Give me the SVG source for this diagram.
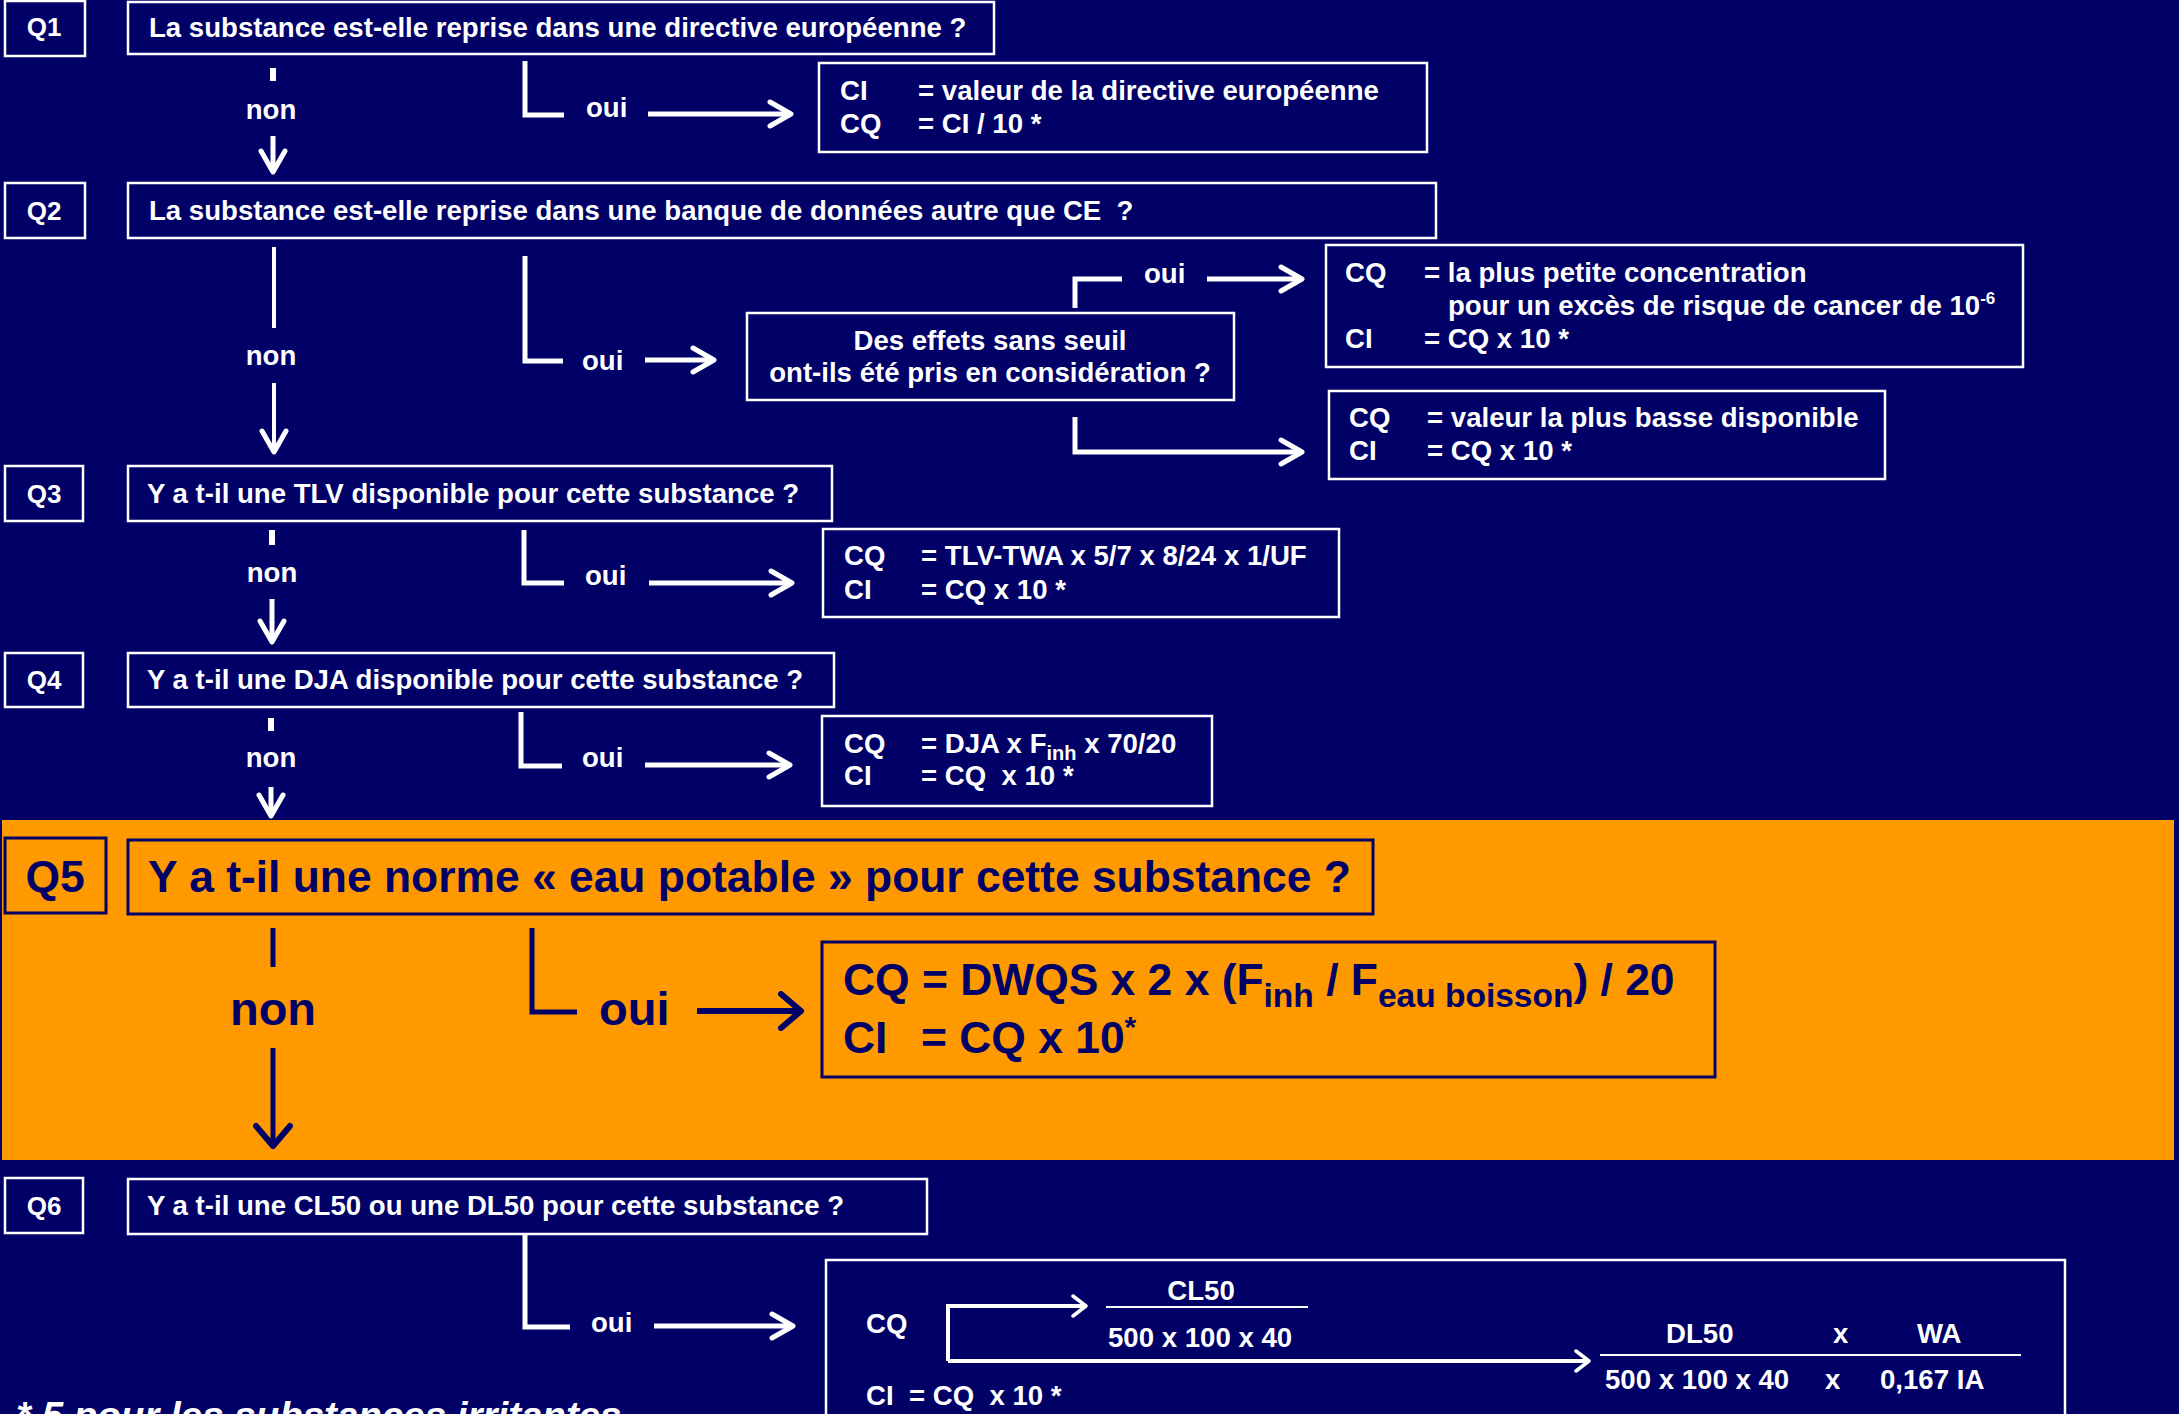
<svg xmlns="http://www.w3.org/2000/svg" width="2179" height="1414" viewBox="0 0 2179 1414">
<defs>
<style>
.t{font-family:"Liberation Sans",Arial,sans-serif;font-weight:bold;font-size:27.6px;fill:#fff;white-space:pre}
.q{font-size:26px;text-anchor:middle}
.mid{text-anchor:middle}
.tn{font-family:"Liberation Sans",Arial,sans-serif;font-weight:bold;font-size:44.4px;fill:#000066;white-space:pre}
.box{fill:none;stroke:#fff;stroke-width:2.5}
.boxn{fill:none;stroke:#000066;stroke-width:3}
.ln{fill:none;stroke:#fff;stroke-width:5}
.lnn{fill:none;stroke:#000066;stroke-width:5}
.thin{fill:none;stroke:#fff;stroke-width:4}
.frac{stroke:#fff;stroke-width:2}
</style>
<marker id="aw" viewBox="0 0 30 30" refX="26" refY="15" markerWidth="30" markerHeight="30" orient="auto" markerUnits="userSpaceOnUse">
<path d="M5,3 L26,15 L5,27" fill="none" stroke="#fff" stroke-width="5" stroke-linejoin="round" stroke-linecap="round"/>
</marker>
<marker id="an" viewBox="0 0 30 40" refX="26" refY="20" markerWidth="30" markerHeight="40" orient="auto" markerUnits="userSpaceOnUse">
<path d="M6,3 L26,20 L6,37" fill="none" stroke="#000066" stroke-width="6" stroke-linejoin="round" stroke-linecap="round"/>
</marker>
<marker id="as" viewBox="0 0 20 24" refX="17" refY="12" markerWidth="20" markerHeight="24" orient="auto" markerUnits="userSpaceOnUse">
<path d="M4,2 L17,12 L4,22" fill="none" stroke="#fff" stroke-width="3.5" stroke-linejoin="round" stroke-linecap="round"/>
</marker>
</defs>
<rect x="0" y="0" width="2179" height="1414" fill="#000066"/>
<rect x="2" y="820" width="2172" height="340" fill="#FF9900"/>

<g id="connectors">
<!-- Q1 -->
<line class="ln" x1="273" y1="68" x2="273" y2="81" style="stroke-width:6"/>
<line class="ln" x1="273" y1="136" x2="273" y2="172" marker-end="url(#aw)"/>
<path class="ln" d="M525,61 V115 H564"/>
<line class="ln" x1="648" y1="114" x2="791" y2="114" marker-end="url(#aw)"/>
<!-- Q2 -->
<line class="ln" x1="274" y1="247" x2="274" y2="328" style="stroke-width:4"/>
<line class="ln" x1="274" y1="383" x2="274" y2="452" style="stroke-width:4" marker-end="url(#aw)"/>
<path class="ln" d="M525,256 V361 H563"/>
<line class="ln" x1="645" y1="360" x2="714" y2="360" marker-end="url(#aw)"/>
<path class="ln" d="M1075,308 V279 H1122"/>
<line class="ln" x1="1207" y1="279" x2="1302" y2="279" marker-end="url(#aw)"/>
<path class="ln" d="M1075,417 V452 H1302" marker-end="url(#aw)"/>
<!-- Q3 -->
<line class="ln" x1="272" y1="530" x2="272" y2="545" style="stroke-width:6"/>
<line class="ln" x1="272" y1="599" x2="272" y2="642" marker-end="url(#aw)"/>
<path class="ln" d="M524,530 V583 H564"/>
<line class="ln" x1="649" y1="583" x2="792" y2="583" marker-end="url(#aw)"/>
<!-- Q4 -->
<line class="ln" x1="271" y1="718" x2="271" y2="731" style="stroke-width:6"/>
<line class="ln" x1="271" y1="787" x2="271" y2="816" marker-end="url(#aw)"/>
<path class="ln" d="M521,712 V766 H562"/>
<line class="ln" x1="645" y1="765" x2="790" y2="765" marker-end="url(#aw)"/>
<!-- Q5 -->
<line class="lnn" x1="273" y1="928" x2="273" y2="967"/>
<line class="lnn" x1="273" y1="1048" x2="273" y2="1146" marker-end="url(#an)"/>
<path class="lnn" d="M532,928 V1012 H577"/>
<line class="lnn" x1="697" y1="1011" x2="801" y2="1011" style="stroke-width:6" marker-end="url(#an)"/>
<!-- Q6 -->
<path class="ln" d="M525,1234 V1327 H570"/>
<line class="ln" x1="654" y1="1326" x2="793" y2="1326" marker-end="url(#aw)"/>
<path class="thin" d="M948,1361 V1306 H1086" marker-end="url(#as)"/>
<line class="thin" x1="948" y1="1361" x2="1589" y2="1361" marker-end="url(#as)"/>
</g>

<g id="labels">
<text class="t mid" x="271" y="119">non</text>
<text class="t" x="586" y="117">oui</text>
<text class="t mid" x="271" y="365">non</text>
<text class="t" x="582" y="370">oui</text>
<text class="t" x="1144" y="283">oui</text>
<text class="t mid" x="272" y="582">non</text>
<text class="t" x="585" y="585">oui</text>
<text class="t mid" x="271" y="767">non</text>
<text class="t" x="582" y="767">oui</text>
<text class="tn mid" x="273" y="1025" style="font-size:47px">non</text>
<text class="tn" x="599" y="1025" style="font-size:47px">oui</text>
<text class="t" x="591" y="1332">oui</text>
</g>

<g id="Q1">
<rect class="box" x="5" y="1" width="80" height="55"/>
<text class="t q" x="44" y="36">Q1</text>
<rect class="box" x="128" y="2" width="866" height="52"/>
<text class="t" x="149" y="37">La substance est-elle reprise dans une directive européenne ?</text>
</g>
<g id="R1">
<rect class="box" x="819" y="63" width="608" height="89"/>
<text class="t" x="840" y="100">CI</text><text class="t" x="918" y="100">= valeur de la directive européenne</text>
<text class="t" x="840" y="133">CQ</text><text class="t" x="918" y="133">= CI / 10 *</text>
</g>

<g id="Q2">
<rect class="box" x="5" y="183" width="80" height="55"/>
<text class="t q" x="44" y="220">Q2</text>
<rect class="box" x="128" y="183" width="1308" height="55"/>
<text class="t" x="149" y="220">La substance est-elle reprise dans une banque de données autre que CE  ?</text>
</g>
<g id="D2">
<rect class="box" x="747" y="313" width="487" height="87"/>
<text class="t mid" x="990" y="350">Des effets sans seuil</text>
<text class="t mid" x="990" y="382">ont-ils été pris en considération ?</text>
</g>
<g id="R2a">
<rect class="box" x="1326" y="245" width="697" height="122"/>
<text class="t" x="1345" y="282">CQ</text><text class="t" x="1424" y="282">= la plus petite concentration</text>
<text class="t" x="1448" y="315">pour un excès de risque de cancer de 10<tspan dy="-11" style="font-size:17px">-6</tspan></text>
<text class="t" x="1345" y="348">CI</text><text class="t" x="1424" y="348">= CQ x 10 *</text>
</g>
<g id="R2b">
<rect class="box" x="1329" y="391" width="556" height="88"/>
<text class="t" x="1349" y="427">CQ</text><text class="t" x="1427" y="427">= valeur la plus basse disponible</text>
<text class="t" x="1349" y="460">CI</text><text class="t" x="1427" y="460">= CQ x 10 *</text>
</g>

<g id="Q3">
<rect class="box" x="5" y="466" width="78" height="55"/>
<text class="t q" x="44" y="503">Q3</text>
<rect class="box" x="128" y="466" width="704" height="55"/>
<text class="t" x="147" y="503">Y a t-il une TLV disponible pour cette substance ?</text>
</g>
<g id="R3">
<rect class="box" x="823" y="529" width="516" height="88"/>
<text class="t" x="844" y="565">CQ</text><text class="t" x="921" y="565">= TLV-TWA x 5/7 x 8/24 x 1/UF</text>
<text class="t" x="844" y="599">CI</text><text class="t" x="921" y="599">= CQ x 10 *</text>
</g>

<g id="Q4">
<rect class="box" x="5" y="653" width="78" height="54"/>
<text class="t q" x="44" y="689">Q4</text>
<rect class="box" x="128" y="653" width="706" height="54"/>
<text class="t" x="147" y="689">Y a t-il une DJA disponible pour cette substance ?</text>
</g>
<g id="R4">
<rect class="box" x="822" y="716" width="390" height="90"/>
<text class="t" x="844" y="753">CQ</text><text class="t" x="921" y="753">= DJA x F<tspan dy="7" style="font-size:20px">inh</tspan><tspan dy="-7"> x 70/20</tspan></text>
<text class="t" x="844" y="785">CI</text><text class="t" x="921" y="785">= CQ  x 10 *</text>
</g>

<g id="Q5">
<rect class="boxn" x="5" y="838" width="101" height="75"/>
<text class="tn mid" x="55" y="892">Q5</text>
<rect class="boxn" x="128" y="840" width="1245" height="74"/>
<text class="tn" x="148" y="892">Y a t-il une norme « eau potable » pour cette substance ?</text>
</g>
<g id="R5">
<rect class="boxn" x="822" y="942" width="893" height="135"/>
<text class="tn" x="843" y="995">CQ = DWQS x 2 x (F<tspan dy="12" style="font-size:33.5px">inh</tspan><tspan dy="-12"> / F</tspan><tspan dy="12" style="font-size:33.5px">eau boisson</tspan><tspan dy="-12">) / 20</tspan></text>
<text class="tn" x="843" y="1053">CI</text><text class="tn" x="921" y="1053">= CQ x 10<tspan dy="-16" style="font-size:30px">*</tspan></text>
</g>

<g id="Q6">
<rect class="box" x="5" y="1178" width="78" height="55"/>
<text class="t q" x="44" y="1215">Q6</text>
<rect class="box" x="128" y="1179" width="799" height="55"/>
<text class="t" x="147" y="1215">Y a t-il une CL50 ou une DL50 pour cette substance ?</text>
</g>
<g id="R6">
<rect class="box" x="826" y="1260" width="1239" height="220"/>
<text class="t" x="866" y="1333">CQ</text>
<text class="t mid" x="1201" y="1300">CL50</text>
<line class="frac" x1="1106" y1="1307" x2="1308" y2="1307"/>
<text class="t" x="1108" y="1347">500 x 100 x 40</text>
<text class="t" x="1666" y="1343">DL50</text>
<text class="t" x="1833" y="1343">x</text>
<text class="t" x="1917" y="1343">WA</text>
<line class="frac" x1="1600" y1="1355" x2="2021" y2="1355"/>
<text class="t" x="1605" y="1389">500 x 100 x 40</text>
<text class="t" x="1825" y="1389">x</text>
<text class="t" x="1880" y="1389">0,167 IA</text>
<text class="t" x="866" y="1405">CI  = CQ  x 10 *</text>
</g>

<g id="footnote">
<text class="t" x="16" y="1429" style="font-size:38.5px;font-style:italic">* 5 pour les substances irritantes</text>
</g>
</svg>
